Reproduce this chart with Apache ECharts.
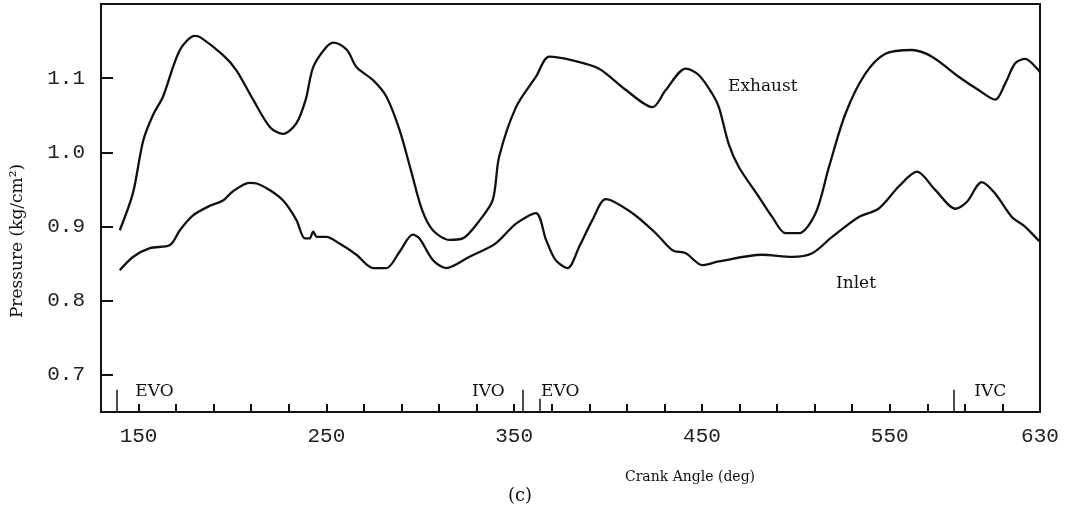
<!DOCTYPE html>
<html>
<head>
<meta charset="utf-8">
<script src="https://cdn.jsdelivr.net/npm/echarts@6/dist/echarts.min.js"></script>
<style>
  html, body { margin: 0; padding: 0; background: #fff; }
  #chart { width: 1070px; height: 519px; }
</style>
</head>
<body>
<div id="chart"></div>
<script>
// Manifold pressure traces vs crank angle
const exhaustAngle = [140, 147, 152.5, 158, 163, 172, 180, 183, 195, 202, 211, 220, 227, 234, 239, 243, 250, 254, 261, 266, 275, 282, 289, 295, 301, 306.7, 315.5, 322.6, 331.5, 338.6, 342, 351, 361.6, 368.7, 381, 395, 409.5, 423.7, 430.7, 441.4, 448.4, 455.5, 459, 464.4, 469.7, 480.3, 487.4, 494.5, 501.6, 510.5, 517.6, 526.4, 537, 547.7, 561.8, 572.5, 586.7, 597.3, 606.2, 611.5, 616.8, 622.1, 629.2, 630];
const exhaustPressure = [0.895, 0.945, 1.016, 1.052, 1.075, 1.138, 1.157, 1.155, 1.131, 1.111, 1.071, 1.034, 1.025, 1.039, 1.071, 1.115, 1.142, 1.148, 1.138, 1.115, 1.097, 1.075, 1.030, 0.976, 0.922, 0.895, 0.882, 0.884, 0.908, 0.936, 0.994, 1.061, 1.102, 1.129, 1.124, 1.113, 1.084, 1.061, 1.084, 1.113, 1.104, 1.079, 1.061, 1.010, 0.980, 0.940, 0.913, 0.891, 0.891, 0.918, 0.980, 1.052, 1.106, 1.133, 1.138, 1.129, 1.102, 1.084, 1.071, 1.093, 1.120, 1.126, 1.111, 1.108];

const inletAngle = [140, 147, 156, 166.7, 172, 179, 188, 195, 200, 209, 213, 220, 227, 234, 238.5, 241, 243, 245, 250, 257, 266, 275, 282, 289, 296, 299.6, 306.7, 313.8, 326, 340, 351, 361.6, 367, 372, 378.4, 384.7, 391.7, 398.8, 413, 425.4, 434.3, 441.4, 450.2, 459, 482, 498, 508.7, 519.3, 533.5, 544, 554.8, 564.5, 574.3, 585, 591, 599, 606, 615, 622, 629, 630];
const inletPressure = [0.841, 0.859, 0.871, 0.875, 0.895, 0.915, 0.928, 0.935, 0.947, 0.959, 0.958, 0.949, 0.935, 0.909, 0.884, 0.884, 0.893, 0.886, 0.886, 0.877, 0.862, 0.844, 0.844, 0.866, 0.889, 0.884, 0.855, 0.844, 0.859, 0.877, 0.904, 0.918, 0.882, 0.855, 0.844, 0.873, 0.909, 0.937, 0.918, 0.891, 0.868, 0.864, 0.848, 0.853, 0.862, 0.859, 0.864, 0.886, 0.913, 0.924, 0.954, 0.974, 0.949, 0.924, 0.933, 0.960, 0.945, 0.913, 0.900, 0.882, 0.880];

// Axis ticks and labels
const xTickLabels = [150, 250, 350, 450, 550, 630];
const yTickLabels = [0.7, 0.8, 0.9, 1.0, 1.1];

// Valve event markers on the angle axis
const eventAngles = [138.5, 354.5, 363.5, 584];
const eventHeights = [0.68, 0.68, 0.668, 0.68];
const eventNames = ['EVO', 'IVO', 'EVO', 'IVC'];
const eventLabelAngles = [158.5, 336.3, 374.5, 603.5];

const zip = (a, b) => a.map((v, i) => [v, b[i]]);

const serif = 'DejaVu Serif';
const mono = 'Liberation Mono';
const ink = '#111';

const chart = echarts.init(document.getElementById('chart'), null, { renderer: 'canvas' });

chart.setOption({
  backgroundColor: '#fff',
  animation: false,
  grid: {
    left: 101, right: 30, top: 4, bottom: 107,
    show: true, borderColor: ink, borderWidth: 2, backgroundColor: 'transparent'
  },
  xAxis: {
    type: 'value',
    min: 130, max: 630, interval: 20,
    axisLine: { show: true, lineStyle: { color: ink, width: 2 } },
    axisTick: { show: true, inside: true, length: 8, lineStyle: { color: ink, width: 2 } },
    axisLabel: {
      show: true,
      customValues: xTickLabels,
      margin: 14,
      fontFamily: mono, fontSize: 21, color: '#222',
      formatter: v => String(v)
    },
    splitLine: { show: false }
  },
  yAxis: {
    type: 'value',
    min: 0.65, max: 1.2,
    axisLine: { show: true, lineStyle: { color: ink, width: 2 } },
    axisTick: { show: true, inside: true, length: 12, customValues: yTickLabels, lineStyle: { color: ink, width: 2 } },
    axisLabel: {
      show: true,
      customValues: yTickLabels,
      margin: 16,
      fontFamily: mono, fontSize: 21, color: '#222',
      formatter: v => v.toFixed(1)
    },
    splitLine: { show: false }
  },
  series: [
    {
      name: 'Exhaust',
      type: 'line',
      data: zip(exhaustAngle, exhaustPressure),
      smooth: 0.3,
      showSymbol: false,
      lineStyle: { color: ink, width: 2.3 }
    },
    {
      name: 'Inlet',
      type: 'line',
      data: zip(inletAngle, inletPressure),
      smooth: 0.3,
      showSymbol: false,
      lineStyle: { color: ink, width: 2.3 }
    },
    {
      name: 'Valve events',
      type: 'scatter',
      silent: true,
      symbolSize: 0,
      itemStyle: { color: ink, opacity: 1 },
      data: eventLabelAngles.map((a, i) => [a, 0.678, eventNames[i]]),
      label: {
        show: true,
        position: 'inside',
        formatter: p => p.value[2],
        fontFamily: serif, fontSize: 17, color: ink,
        textBorderWidth: 0
      },
      markLine: {
        silent: true,
        symbol: ['none', 'none'],
        label: { show: false },
        lineStyle: { color: ink, width: 1.5, type: 'solid', opacity: 1 },
        data: eventAngles.map((a, i) => [
          { coord: [a, 0.65] },
          { coord: [a, eventHeights[i]] }
        ])
      }
    }
  ],
  graphic: [
    {
      type: 'text', left: 728, top: 78,
      style: { text: 'Exhaust', fontFamily: serif, fontSize: 17, fill: ink }
    },
    {
      type: 'text', left: 836, top: 275,
      style: { text: 'Inlet', fontFamily: serif, fontSize: 17, fill: ink }
    },
    {
      type: 'text', x: 18, y: 241, rotation: Math.PI / 2,
      style: {
        text: 'Pressure (kg/cm²)', fontFamily: serif, fontSize: 17, fill: ink,
        align: 'center', verticalAlign: 'middle'
      }
    },
    {
      type: 'text', x: 690, y: 477,
      style: {
        text: 'Crank Angle (deg)', fontFamily: serif, fontSize: 14, fill: ink,
        align: 'center', verticalAlign: 'middle'
      }
    },
    {
      type: 'text', x: 520, y: 496,
      style: {
        text: '(c)', fontFamily: serif, fontSize: 18, fill: ink,
        align: 'center', verticalAlign: 'middle'
      }
    }
  ]
});
</script>
</body>
</html>
